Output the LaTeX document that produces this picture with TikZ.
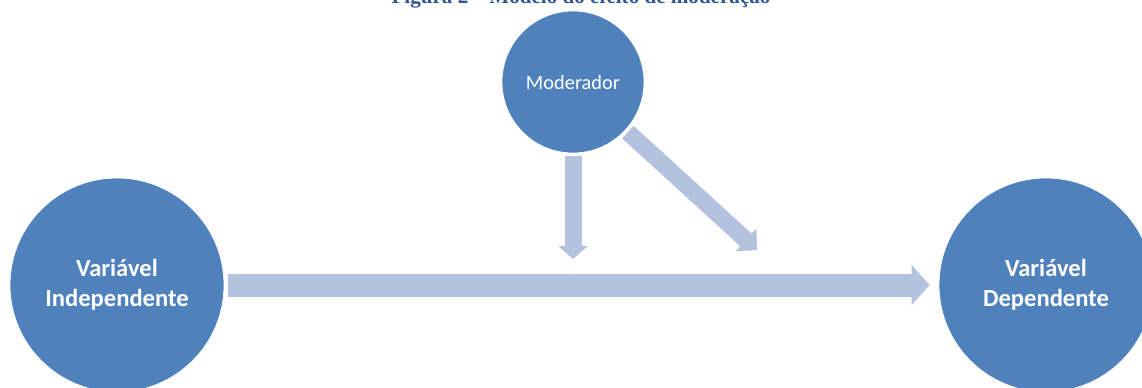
\documentclass[tikz,border=0pt]{standalone}
\usepackage{fontspec}
\setmainfont{Liberation Serif}
\newfontfamily\calibri{Carlito}
\usetikzlibrary{arrows.meta}
\definecolor{circblue}{RGB}{79,129,189}
\definecolor{arrowblue}{RGB}{179,194,222}
\definecolor{captionblue}{RGB}{47,85,151}
\tikzset{
  var/.style={circle, fill=circblue, draw=white, inner sep=0pt, text=white, align=center,
    font=\calibri\bfseries\fontsize{14}{17}\selectfont},
  link/.style={draw=arrowblue}
}
\begin{document}
\begin{tikzpicture}[x=0.02cm, y=-0.02cm]
        \clip (0,0) rectangle (1142,387);
        \node[font=\bfseries\fontsize{12}{14}\selectfont, text=captionblue, anchor=base] (caption) at (581,3) {Figura 2 – Modelo do efeito de moderação};
        \node[var, minimum size=4.28cm] (indep) at (117,285) {Variável\\Independente};
        \node[var, minimum size=4.28cm] (dep) at (1046,285) {Variável\\Dependente};
        \node[var, minimum size=2.84cm, font=\calibri\fontsize{11.6}{13}\selectfont] (mod) at (573,82) {Moderador};
        \coordinate (vtip) at (573,259);
        \coordinate (dtip) at (757,250);
        % main effect
        \draw[link, line width=0.46cm, -{Triangle[width=0.78cm, length=0.36cm]}, shorten <=0.08cm, shorten >=0.18cm] (indep) -- (dep);
        % moderation
        \draw[link, line width=0.34cm, -{Triangle[width=0.58cm, length=0.26cm]}, shorten <=0.05cm] (mod) -- (vtip);
        \draw[link, line width=0.34cm, -{Triangle[width=0.6cm, length=0.3cm]}, shorten <=0.06cm] (mod) -- (dtip);
        %\draw (mod) -- (dep);
\end{tikzpicture}
\end{document}
